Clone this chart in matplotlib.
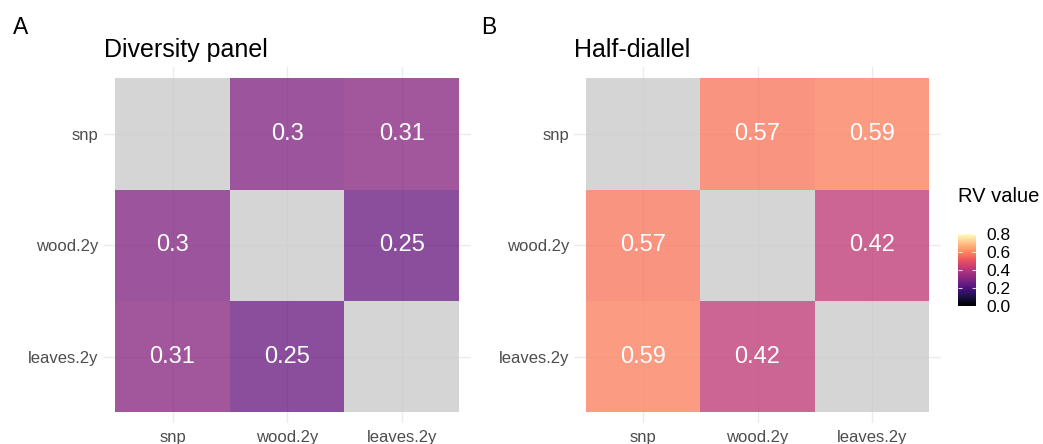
import numpy as np
import matplotlib
matplotlib.use("Agg")
import matplotlib.pyplot as plt
from matplotlib.colors import Normalize
from matplotlib.cm import ScalarMappable

plt.rcParams['font.family'] = ['Liberation Sans', 'DejaVu Sans']

traits = ["snp", "wood.2y", "leaves.2y"]
# RV coefficients (rows = y, cols = x), diagonal missing
rv_diversity = [[np.nan, 0.30, 0.31],
                [0.30, np.nan, 0.25],
                [0.31, 0.25, np.nan]]
rv_diallel = [[np.nan, 0.57, 0.59],
              [0.57, np.nan, 0.42],
              [0.59, 0.42, np.nan]]
panel_titles = ["Diversity panel", "Half-diallel"]
panel_tags = ["A", "B"]
legend_breaks = [0.0, 0.2, 0.4, 0.6, 0.8]

W, H = 1043, 444
fig = plt.figure(figsize=(W / 100, H / 100), dpi=100)

norm = Normalize(0, 0.8)
cmap = plt.get_cmap("magma").copy()
alpha = 0.78
# NA tiles -> light grey after alpha blending
na_grey = (214 - (1 - alpha) * 255) / alpha / 255
cmap.set_bad((na_grey, na_grey, na_grey, 1))


def heat(ax, mat, title, tag, tag_x):
    mat = np.array(mat, dtype=float)
    n = len(traits)
    xs = np.arange(n + 1) + 0.5
    ys = np.arange(n + 1) + 0.5
    # snp on top: reverse rows so first trait is highest y
    ax.pcolormesh(xs, ys, np.ma.masked_invalid(mat[::-1]), cmap=cmap, norm=norm,
                  alpha=alpha, zorder=2, linewidth=0)
    for i in range(n):
        for j in range(n):
            v = mat[i, j]
            if not np.isnan(v):
                ax.text(j + 1, n - i, f"{v:g}", color="white", fontsize=17,
                        ha="center", va="center", zorder=3)
    ax.set_xlim(0.4, n + 0.6)
    ax.set_ylim(0.4, n + 0.6)
    ax.set_xticks(np.arange(1, n + 1))
    ax.set_xticklabels(traits)
    ax.set_yticks(np.arange(1, n + 1))
    ax.set_yticklabels(traits[::-1])
    ax.grid(True, color="#EBEBEB", linewidth=1.0, zorder=0)
    ax.set_axisbelow(True)
    for s in ax.spines.values():
        s.set_visible(False)
    ax.tick_params(length=0, labelsize=12, labelcolor="#4D4D4D")
    ax.tick_params(axis="y", pad=3.6)
    ax.tick_params(axis="x", pad=4.5)
    pos = ax.get_position()
    fig.text(pos.x0, 1 - 56.7 / H, title, fontsize=18, va="baseline", ha="left")
    fig.text(tag_x / W, 1 - 34 / H, tag, fontsize=16.5, va="baseline", ha="left")


bottom = (H - 423.4) / H
height = (423.4 - 67.2) / H
axA = fig.add_axes([103.8 / W, bottom, (470.5 - 103.8) / W, height])
axB = fig.add_axes([574.2 / W, bottom, (940.8 - 574.2) / W, height])
heat(axA, rv_diversity, panel_titles[0], panel_tags[0], 13)
heat(axB, rv_diallel, panel_titles[1], panel_tags[1], 481.5)

# colour bar legend
cax = fig.add_axes([958.3 / W, (H - 305.7) / H, (975.7 - 958.3) / W, (305.7 - 234) / H])
cb = fig.colorbar(ScalarMappable(norm=norm, cmap=cmap), cax=cax, ticks=legend_breaks)
cb.outline.set_visible(False)
cax.set_yticklabels([f"{b:.1f}" for b in legend_breaks])
cax.tick_params(length=0, labelsize=12.5, pad=8, labelcolor="black")
cax.hlines(legend_breaks, 0, 0.2, color="white", linewidth=0.8,
           transform=cax.get_yaxis_transform(), alpha=0.8)
cax.hlines(legend_breaks, 0.8, 1, color="white", linewidth=0.8,
           transform=cax.get_yaxis_transform(), alpha=0.8)
fig.text(958.3 / W, 1 - 202 / H, "RV value", fontsize=14.5, va="baseline", ha="left")

fig.savefig("out.png", dpi=100)
